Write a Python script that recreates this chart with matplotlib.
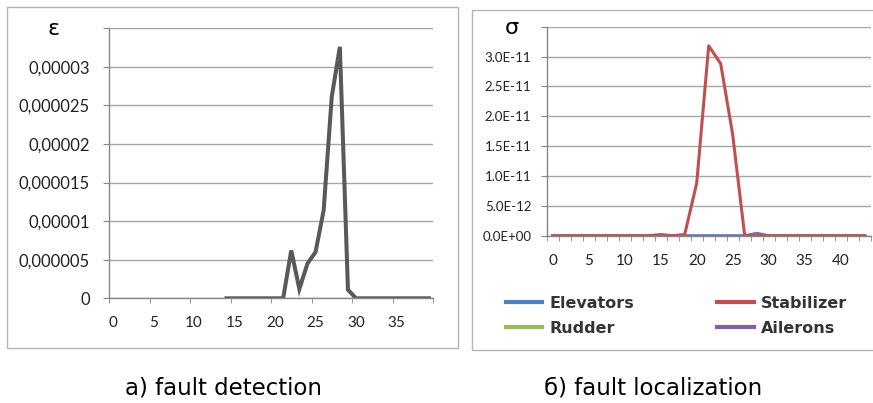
import numpy as np
import matplotlib
matplotlib.use('Agg')
import matplotlib.pyplot as plt
from matplotlib.patches import Rectangle
from matplotlib.ticker import FixedLocator

# a) fault detection
det_x = list(range(14, 40))
det_eps = [0, 0, 0, 0, 0, 0, 0, 0,
           6.2e-6, 1.2e-6, 4.5e-6, 6.0e-6, 11.4e-6, 26.1e-6, 32.6e-6, 1.1e-6,
           0, 0, 0, 0, 0, 0, 0, 0, 0, 0]
det_yticks = [0, 5e-6, 1e-5, 1.5e-5, 2e-5, 2.5e-5, 3e-5, 3.5e-5]
det_ylabels = ['0', '0,000005', '0,00001', '0,000015', '0,00002', '0,000025', '0,00003', '']
det_xlabels = ['0', '5', '10', '15', '20', '25', '30', '35']

# б) fault localization
loc_x = list(range(27))
elevators = [0] * 9 + [0.2e-12] + [0] * 7 + [0.4e-12] + [0] * 9
rudder = [0] * 27
stabilizer = [0] * 11 + [0.2e-12, 8.8e-12, 31.8e-12, 28.8e-12, 16.9e-12] + [0] * 11
ailerons = [0] * 27
loc_yticks = [0, 5e-12, 1e-11, 1.5e-11, 2e-11, 2.5e-11, 3e-11, 3.5e-11]
loc_ylabels = ['0.0E+00', '5.0E-12', '1.0E-11', '1.5E-11', '2.0E-11', '2.5E-11', '3.0E-11', '']
loc_xlabels = ['0', '5', '10', '15', '20', '25', '30', '35', '40']

W, H = 873, 403
grid_c = '#a6a6a6'
axis_c = '#868686'

fig = plt.figure(figsize=(W / 100, H / 100), dpi=100)


def box(x0, y0, x1, y1):
    fig.patches.append(Rectangle((x0 / W, 1 - y1 / H), (x1 - x0) / W, (y1 - y0) / H,
                                 transform=fig.transFigure, fill=False,
                                 edgecolor='#b4b4b4', linewidth=1.0))


def style(ax, ylab_size, xlab_size, ypad):
    for s in ['top', 'right']:
        ax.spines[s].set_visible(False)
    for s in ['left', 'bottom']:
        ax.spines[s].set_color(axis_c)
        ax.spines[s].set_linewidth(1.0)
    ax.yaxis.grid(True, color=grid_c, linewidth=1.0)
    ax.set_axisbelow(True)
    ax.tick_params(axis='y', which='major', length=4.2, color=axis_c, pad=ypad,
                   labelsize=ylab_size)
    ax.tick_params(axis='x', which='major', length=0, pad=13, labelsize=xlab_size)
    ax.tick_params(axis='x', which='minor', length=3.5, color=axis_c, direction='out')
    for lab in ax.get_xticklabels() + ax.get_yticklabels():
        lab.set_family('Lato')
        lab.set_color('#222222')


box(7, 7, 458, 348)
box(472, 10, 890, 350)

# left chart
ax1 = fig.add_axes([109 / W, 1 - 298.3 / H, 324 / W, 270 / H])
ax1.plot(det_x, det_eps, color='#595959', linewidth=2.9, solid_joinstyle='miter')
ax1.set_xlim(-0.5, 39.5)
ax1.set_ylim(0, 3.5e-5)
ax1.set_yticks(det_yticks)
ax1.set_yticklabels(det_ylabels)
ax1.set_xticks(range(0, 40, 5))
ax1.set_xticklabels(det_xlabels)
ax1.xaxis.set_minor_locator(FixedLocator(np.arange(-0.5, 40, 5)))
style(ax1, 12, 11, 9.5)

# right chart
ax2 = fig.add_axes([546.7 / W, 1 - 235.7 / H, 324 / W, 209 / H])
ax2.plot(loc_x, elevators, color='#4f81bd', linewidth=2.2, label='Elevators')
ax2.plot(loc_x, rudder, color='#9bbb59', linewidth=2.2, label='Rudder')
ax2.plot(loc_x, stabilizer, color='#c0504d', linewidth=2.2, label='Stabilizer')
ax2.plot(loc_x, ailerons, color='#8064a2', linewidth=2.2, label='Ailerons')
ax2.set_xlim(-0.5, 26.5)
ax2.set_ylim(0, 3.5e-11)
ax2.set_yticks(loc_yticks)
ax2.set_yticklabels(loc_ylabels)
ax2.set_xticks(range(0, 27, 3))
ax2.set_xticklabels(loc_xlabels)
ax2.xaxis.set_minor_locator(FixedLocator(np.arange(-0.5, 27, 1)))
style(ax2, 9.5, 11, 6.8)

leg = fig.legend(*ax2.get_legend_handles_labels(), ncol=2, frameon=False,
                 loc='upper left', bbox_to_anchor=(505.7 / W, 1 - 295.5 / H),
                 borderpad=0, borderaxespad=0, handlelength=2.3, handletextpad=0.45,
                 columnspacing=5.2, labelspacing=0.65,
                 prop={'family': 'DejaVu Sans', 'weight': 'bold', 'size': 11.5})
for t in leg.get_texts():
    t.set_color('#333333')
for h in leg.legend_handles:
    h.set_linewidth(3.0)

fig.text(54 / W, 1 - 29 / H, 'ε', ha='center', va='center', fontsize=16)
fig.text(512 / W, 1 - 28 / H, 'σ', ha='center', va='center', fontsize=16)
fig.text(224 / W, 1 - 388 / H, 'a) fault detection', ha='center', va='center', fontsize=16.5)
fig.text(653 / W, 1 - 388 / H, 'б) fault localization', ha='center', va='center', fontsize=16.5)

fig.savefig('out.png', dpi=100)
